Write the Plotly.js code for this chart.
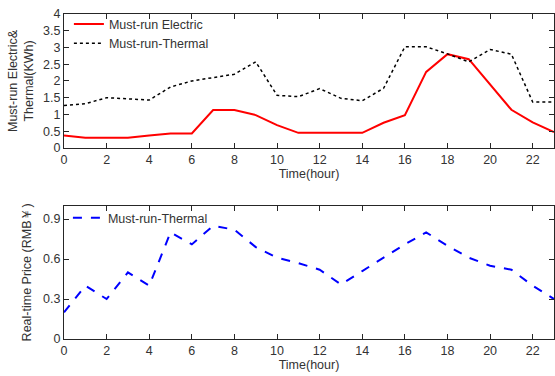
<!DOCTYPE html>
<html><head><meta charset="utf-8">
<script src="https://cdn.plot.ly/plotly-3.0.1.min.js"></script>
<style>body{margin:0;background:#fff}#c{width:555px;height:376px}</style>
</head><body><div id="c"></div>
<script>
const hours = [0,1,2,3,4,5,6,7,8,9,10,11,12,13,14,15,16,17,18,19,20,21,22,23];
const electric = [0.37,0.3,0.3,0.3,0.37,0.43,0.43,1.13,1.13,0.98,0.68,0.45,0.45,0.45,0.45,0.75,0.98,2.27,2.8,2.65,1.9,1.14,0.76,0.47];
const thermal = [1.27,1.32,1.5,1.47,1.43,1.82,2.0,2.1,2.2,2.57,1.57,1.53,1.77,1.48,1.41,1.78,3.02,3.02,2.81,2.57,2.94,2.8,1.37,1.37];
const price = [0.2,0.4,0.3,0.5,0.4,0.8,0.71,0.85,0.82,0.69,0.61,0.57,0.52,0.41,0.51,0.61,0.71,0.8,0.7,0.61,0.55,0.52,0.4,0.3];
const xTicks = [0,2,4,6,8,10,12,14,16,18,20,22];
const yTop = [0,0.5,1,1.5,2,2.5,3,3.5,4];
const yTopLabels = ['0','0.5','1','1.5','2','2.5','3','3.5','4'];
const yBot = [0,0.3,0.6,0.9];
const yBotLabels = ['0','0.3','0.6','0.9'];

const font = {family:'Liberation Sans, Arial, sans-serif', size:12.5, color:'#333333'};
const axBase = {showline:true, linecolor:'#262626', linewidth:1, mirror:'ticks', ticks:'inside', ticklen:5, tickcolor:'#262626', showgrid:false, zeroline:false, tickfont:font};

const traces = [
 {x:hours, y:electric, type:'scatter', mode:'lines', name:'Must-run Electric', line:{color:'#ff0000', width:2}, xaxis:'x', yaxis:'y', legend:'legend'},
 {x:hours, y:thermal, type:'scatter', mode:'lines', name:'Must-run-Thermal', line:{color:'#000000', width:1.5, dash:'dot'}, xaxis:'x', yaxis:'y', legend:'legend'},
 {x:hours, y:price, type:'scatter', mode:'lines', name:'Must-run-Thermal', line:{color:'#0000ff', width:2, dash:'dash'}, xaxis:'x2', yaxis:'y2', legend:'legend2'}
];
const layout = {
 width:555, height:376, margin:{l:64, r:1, t:14, b:37},
 paper_bgcolor:'#fff', plot_bgcolor:'#fff', font:font, showlegend:true,
 xaxis: Object.assign({}, axBase, {domain:[0,1], anchor:'y', range:[0,23], tickvals:xTicks, title:{text:'Time(hour)', font:font, standoff:2}}),
 yaxis: Object.assign({}, axBase, {domain:[0.588,1], anchor:'x', range:[0,4], tickvals:yTop, ticktext:yTopLabels, title:{text:'Must-run Electric&<br>Thermal(KWh)', font:font, standoff:6}}),
 xaxis2: Object.assign({}, axBase, {domain:[0,1], anchor:'y2', range:[0,23], tickvals:xTicks, title:{text:'Time(hour)', font:font, standoff:2}}),
 yaxis2: Object.assign({}, axBase, {domain:[0,0.41], anchor:'x2', range:[0,1], tickvals:yBot, ticktext:yBotLabels, title:{text:'Real-time Price (RMB￥)', font:font, standoff:8}}),
 legend:{x:0.01, y:1.014, xanchor:'left', yanchor:'top', bgcolor:'rgba(0,0,0,0)', font:font, itemwidth:30, tracegroupgap:0},
 legend2:{x:0.008, y:0.418, xanchor:'left', yanchor:'top', bgcolor:'rgba(0,0,0,0)', font:font, itemwidth:30}
};
Plotly.newPlot('c', traces, layout, {displayModeBar:false, staticPlot:true});
</script></body></html>
